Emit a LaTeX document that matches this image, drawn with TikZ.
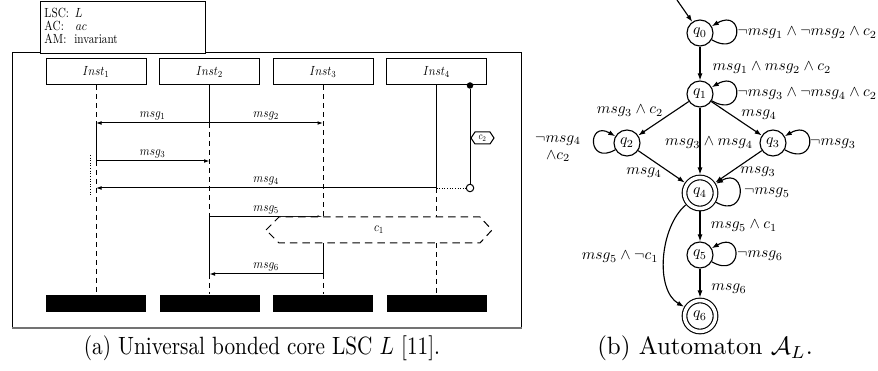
\documentclass[tikz,border=0pt]{standalone}
\usetikzlibrary{arrows.meta,calc}
% the chart on the left is set small and slightly condensed
\newcommand{\lsc}[1]{\scalebox{0.45}[0.53]{#1}}
% the automaton labels are set at a reduced scale
\newcommand{\aut}[1]{\scalebox{0.62}{#1}}

\begin{document}
\begin{tikzpicture}[x=0.4pt,y=-0.4pt,
  lscline/.style={line width=0.4pt},
  coldline/.style={line width=0.4pt, dash pattern=on 2pt off 1.6pt},
  dotline/.style={line width=0.35pt, dash pattern=on 0.35pt off 0.7pt},
  instbox/.style={draw, line width=0.4pt, minimum width=40pt, minimum height=10.4pt, inner sep=0pt},
  endbar/.style={fill=black, minimum width=40pt, minimum height=6.8pt, inner sep=0pt},
  msgarrow/.style={line width=0.4pt, -{Latex[length=2.2pt,width=1.5pt]}},
  msglabel/.style={inner sep=0pt, above=0.8pt},
  condbox/.style={line width=0.4pt, fill=white},
  state/.style={circle, draw, line width=0.45pt, minimum size=10.4pt, inner sep=0pt},
  accepting/.style={state, double, double distance=1.4pt, minimum size=12.4pt, outer sep=1.2pt},
  trans/.style={line width=0.45pt, -{Latex[length=2.8pt,width=2pt]}},
  tlabel/.style={inner sep=0pt},
]
\useasboundingbox (0,0) rectangle (878,371);

% ---------------- live sequence chart ----------------
% outer frame
\draw[lscline] (12,328) -- (12,53) -- (521,53) -- (521,328);
\draw[line width=0.9pt, black!55] (12,328) -- (521.5,328);

% header box
\node[draw, line width=0.4pt, minimum width=66pt, minimum height=20.8pt,
      inner sep=0pt, anchor=north west, fill=white] (hdr) at (40,1) {};
\node[anchor=base west, inner sep=0pt] (hl1) at (44,17.5) {\lsc{LSC:\hspace{5.3pt}$L$}};
\node[anchor=base west, inner sep=0pt] (hl2) at (44,30.5) {\lsc{AC:\hspace{10.7pt}$ac$}};
\node[anchor=base west, inner sep=0pt] (hl3) at (44,44) {\lsc{AM:\hspace{7.1pt}invariant}};

% instances and their end bars
\foreach \i/\x in {1/96,2/209.5,3/323,4/436.5} {
  \node[instbox] (i\i) at (\x,72) {\lsc{$Inst_{\i}$}};
  \node[endbar] (e\i) at (\x,303.5) {};
}

% points on the lifelines
\coordinate (l1a) at (96,123);
\coordinate (l1b) at (96,161);
\coordinate (l1c) at (96,188);
\coordinate (l2a) at (209.5,123);
\coordinate (l2b) at (209.5,161);
\coordinate (l2c) at (209.5,217);
\coordinate (l2d) at (209.5,274);
\coordinate (l3a) at (323,123);
\coordinate (l3b) at (323,217);
\coordinate (l3c) at (323,243);
\coordinate (l3d) at (323,274);
\coordinate (l4a) at (436.5,188);
\coordinate (l4b) at (436.5,217);
\coordinate (l4c) at (436.5,243);

% lifelines: solid = hot, dashed = cold
\draw[coldline] (i1.south) -- (l1a);
\draw[lscline]  (l1a) -- (l1b);
\draw[coldline] (l1b) -- (e1.north);

\draw[lscline]  (i2.south) -- (l2a);
\draw[coldline] (l2a) -- (l2c);
\draw[lscline]  (l2c) -- (l2d);
\draw[coldline] (l2d) -- (e2.north);

\draw[coldline] (i3.south) -- (l3b);
\draw[lscline]  (l3c) -- (l3d);
\draw[coldline] (l3d) -- (e3.north);

\draw[lscline]  (i4.south) -- (l4a);
\draw[coldline] (l4a) -- (l4b);
\draw[coldline] (l4c) -- (e4.north);

% coregion marker on Inst1
\coordinate (co1) at (90,155);
\coordinate (co2) at (90,196);
\draw[dotline] (co1) -- (co2);

% messages
\draw[msgarrow] (l2a) -- node[msglabel] (lm1) {\lsc{$msg_1$}} (l1a);
\draw[msgarrow] (l2a) -- node[msglabel] (lm2) {\lsc{$msg_2$}} (l3a);
\draw[msgarrow] (l1b) -- node[msglabel] (lm3) {\lsc{$msg_3$}} (l2b);
\draw[msgarrow] (l4a) -- node[msglabel] (lm4) {\lsc{$msg_4$}} (l1c);
\draw[msgarrow] (l2c) -- node[msglabel] (lm5) {\lsc{$msg_5$}} (l3b);
\draw[msgarrow] (l3d) -- node[msglabel] (lm6) {\lsc{$msg_6$}} (l2d);

% condition c1 across Inst3 and Inst4
\draw[condbox, dash pattern=on 3pt off 2pt]
  (266,230) -- (279,217) -- (480,217) -- (492,230) -- (480,243) -- (279,243) -- cycle;
\node[inner sep=0pt] (c1) at (379,230) {\lsc{$c_1$}};

% invariant condition c2 on Inst4
\node[circle, fill=black, minimum size=2.6pt, inner sep=0pt] (cs) at (470,85.5) {};
\node[circle, draw, fill=white, line width=0.4pt, minimum size=3pt, inner sep=0pt] (ce) at (470,188) {};
\draw[lscline] (cs) -- (ce);
\draw[dotline] (l4a) -- (ce);
\draw[condbox] (471,138) -- (475,132) -- (490,132) -- (494,138) -- (490,144) -- (475,144) -- cycle;
\node[inner sep=0pt] (c2) at (482.5,138) {\scalebox{0.8}{\lsc{$c_2$}}};

\node[anchor=base, inner sep=0pt] (capa) at (262,355)
  {\scalebox{0.85}[1]{(a) Universal bonded core LSC $L$ [11].}};

% ---------------- automaton ----------------
\node[state] (q0) at (700,33) {\aut{$q_0$}};
\node[state] (q1) at (700,94) {\aut{$q_1$}};
\node[state] (q2) at (627,143) {\aut{$q_2$}};
\node[state] (q3) at (773,143) {\aut{$q_3$}};
\node[accepting] (q4) at (700,193) {\aut{$q_4$}};
\node[state] (q5) at (700,255) {\aut{$q_5$}};
\node[accepting] (q6) at (700,316) {\aut{$q_6$}};

\coordinate (init) at (677,0);
\draw[trans] (init) -- (q0);

\draw[trans] (q0) -- (q1);
\draw[trans] (q1) -- (q2);
\draw[trans] (q1) -- (q3);
\draw[trans] (q1) -- (q4);
\draw[trans] (q2) -- (q4);
\draw[trans] (q3) -- (q4);
\draw[trans] (q4) -- (q5);
\draw[trans] (q5) -- (q6);
\draw[trans] (q4) to[out=220, in=150, looseness=0.85] (q6);

% self loops
\draw[trans] (q0) to[out=-30, in=30, looseness=1, min distance=15pt] (q0);
\draw[trans] (q1) to[out=-30, in=30, looseness=1, min distance=15pt] (q1);
\draw[trans] (q2) to[out=210, in=150, looseness=1, min distance=13pt] (q2);
\draw[trans] (q3) to[out=-30, in=30, looseness=1, min distance=15pt] (q3);
\draw[trans] (q4) to[out=-30, in=30, looseness=1, min distance=14.5pt] (q4);
\draw[trans] (q5) to[out=-30, in=30, looseness=1, min distance=14.5pt] (q5);

% transition labels
\node[tlabel, anchor=west] (t00) at (737,33) {\aut{$\neg msg_1 \wedge \neg msg_2 \wedge c_2$}};
\node[tlabel, anchor=west] (t01) at (712,68) {\aut{$msg_1 \wedge msg_2 \wedge c_2$}};
\node[tlabel, anchor=west] (t11) at (737,94) {\aut{$\neg msg_3 \wedge \neg msg_4 \wedge c_2$}};
\node[tlabel] (t12) at (630,111) {\aut{$msg_3 \wedge c_2$}};
\node[tlabel] (t13) at (759,115) {\aut{$msg_4$}};
\node[tlabel] (t14) at (709,143) {\aut{$msg_3 \wedge msg_4$}};
\node[tlabel] (t22) at (558,147) {\aut{\begin{tabular}{@{}c@{}}$\neg msg_4$\\[-1pt]$\wedge c_2$\end{tabular}}};
\node[tlabel] (t33) at (833,144) {\aut{$\neg msg_3$}};
\node[tlabel] (t24) at (644,173) {\aut{$msg_4$}};
\node[tlabel] (t34) at (758,172) {\aut{$msg_3$}};
\node[tlabel] (t44) at (767,193) {\aut{$\neg msg_5$}};
\node[tlabel] (t45) at (744,226) {\aut{$msg_5 \wedge c_1$}};
\node[tlabel] (t55) at (760,256) {\aut{$\neg msg_6$}};
\node[tlabel] (t46) at (620,257) {\aut{$msg_5 \wedge \neg c_1$}};
\node[tlabel] (t56) at (729,289) {\aut{$msg_6$}};

\node[anchor=base, inner sep=0pt] (capb) at (705,355) {(b) Automaton $\mathcal{A}_L$.};
\end{tikzpicture}
\end{document}
